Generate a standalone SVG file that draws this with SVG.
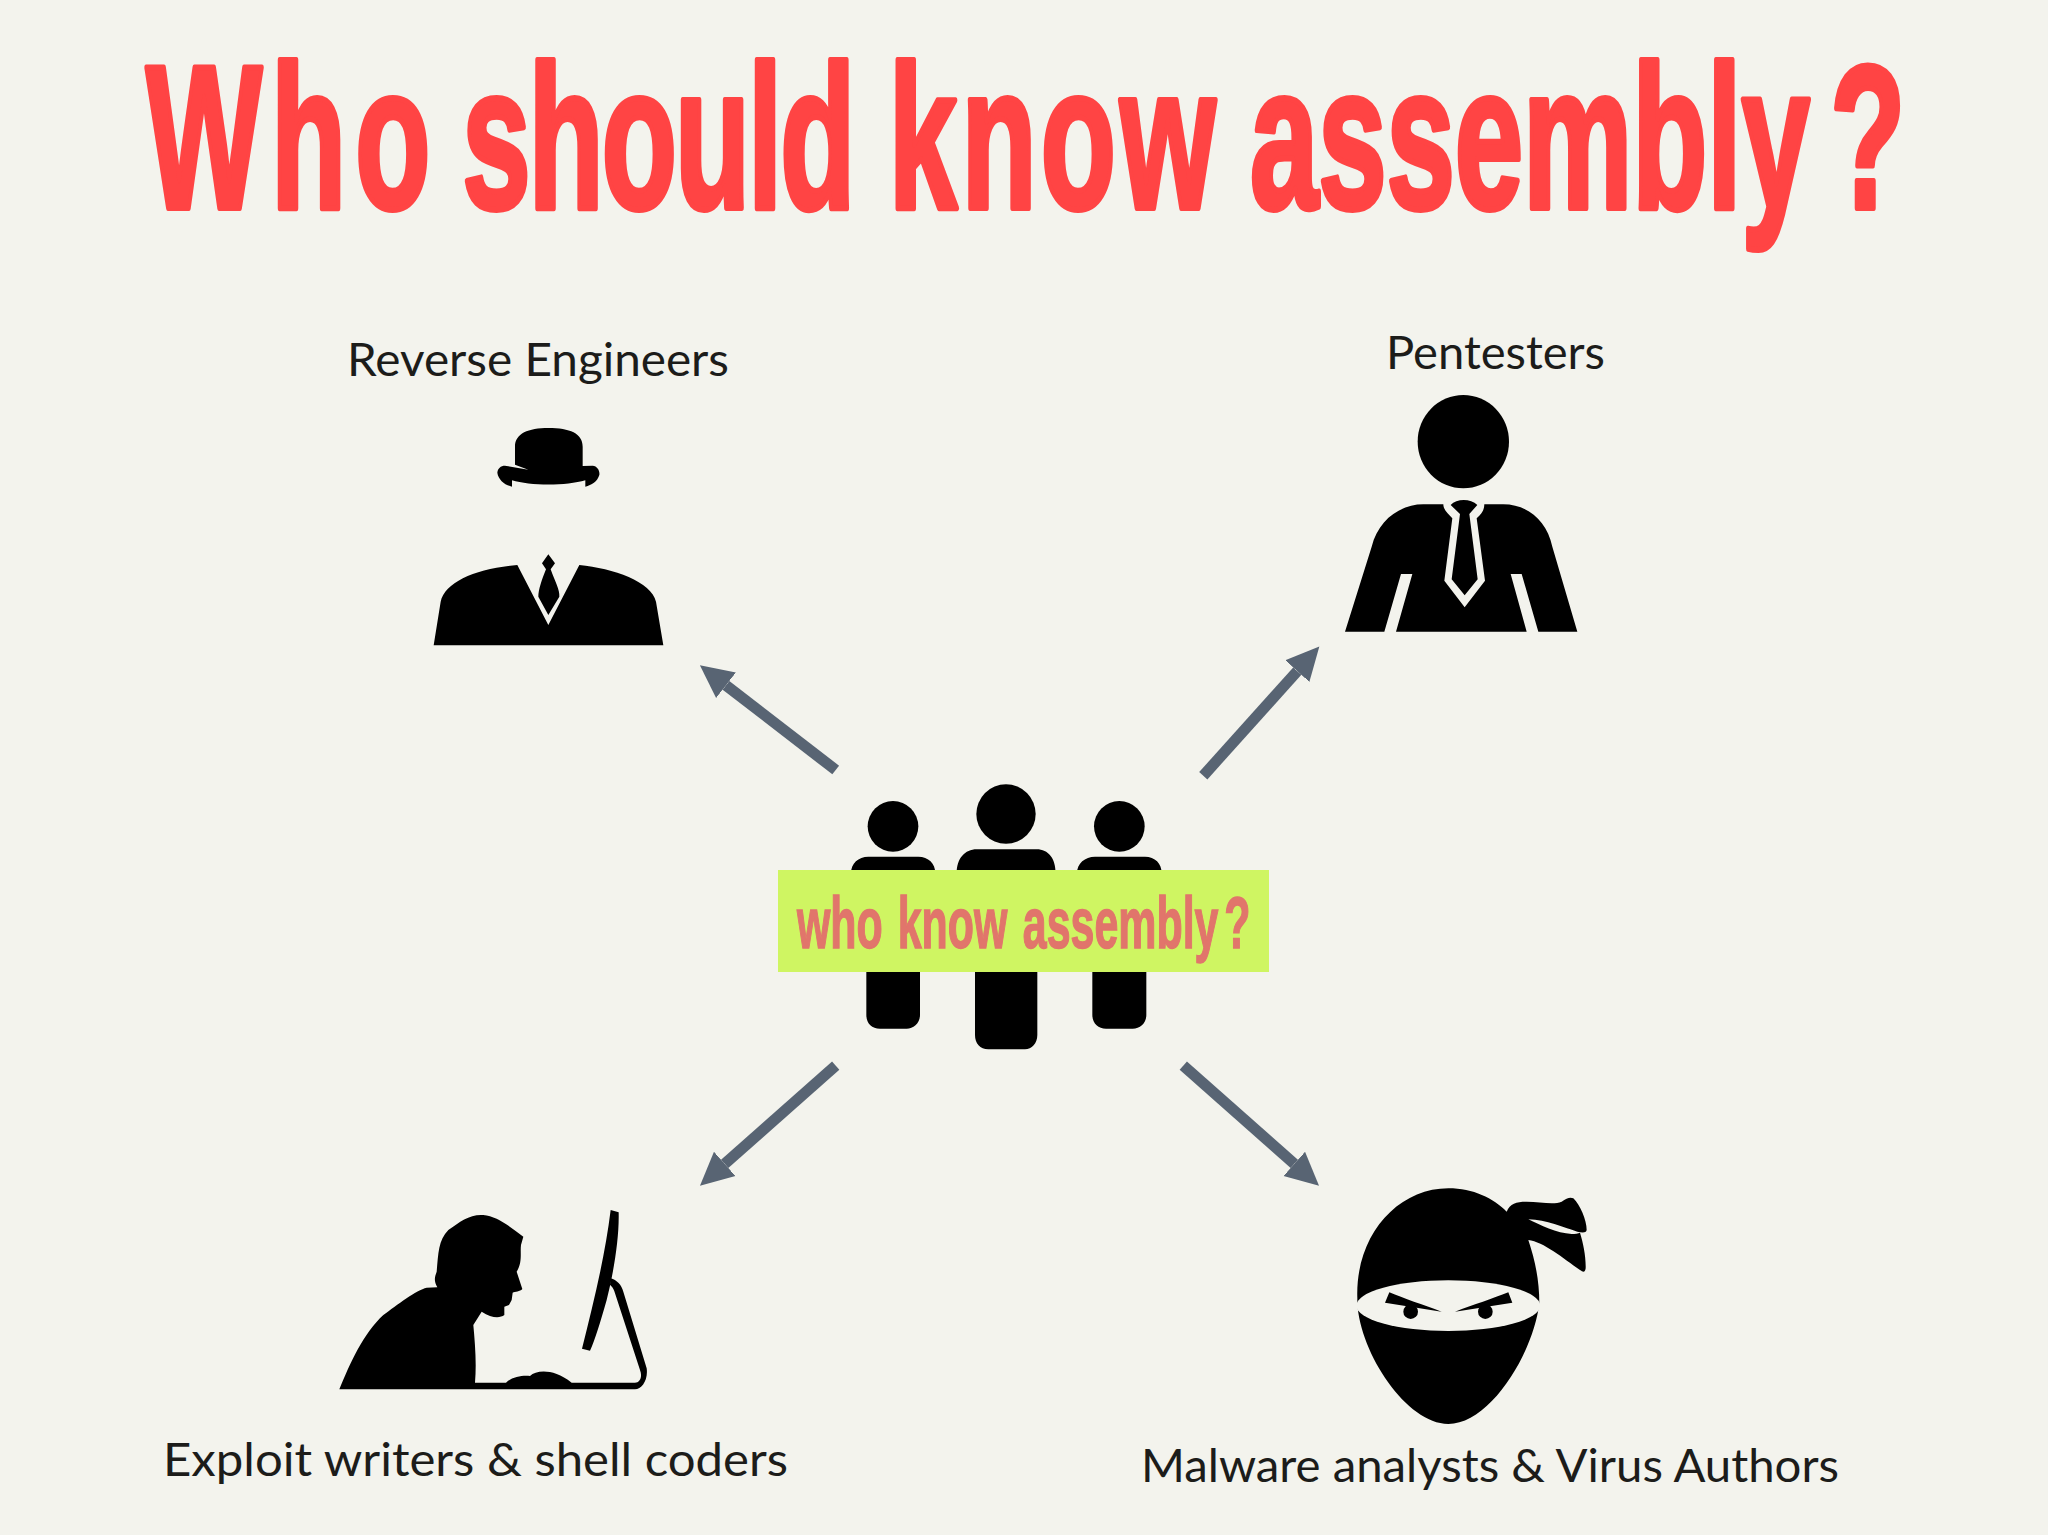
<svg xmlns="http://www.w3.org/2000/svg" width="2048" height="1535" viewBox="0 0 2048 1535">
<style>
.label{font-family:"Lato","Liberation Sans",sans-serif;font-size:46px;fill:#1c1c1a}
.title{font-family:"Liberation Sans",sans-serif;font-weight:700;font-size:205px;fill:#ff4444;stroke:#ff4444;stroke-width:6px;stroke-linejoin:round}
.banner{font-family:"Liberation Sans",sans-serif;font-weight:700;font-size:72px;fill:#e1756b;stroke:#e1756b;stroke-width:1.5px}
.ink{fill:#000}
.paper{fill:#f3f3ed}
.arrow{stroke:#586473;stroke-width:11;fill:none;marker-end:url(#head)}
</style>
<defs>
<marker id="head" markerUnits="userSpaceOnUse" markerWidth="36" markerHeight="36" refX="0" refY="18" orient="auto">
<path d="M0,1.8L33,18L0,34.2Z" fill="#586473"/>
</marker>
</defs>
<rect width="2048" height="1535" class="paper"/>
<text id="title" class="title" transform="translate(146 208) scale(.6 1)"><tspan x="0" letter-spacing="15">Who </tspan><tspan x="527" letter-spacing="-3.3">should </tspan><tspan x="1238" letter-spacing="7">know </tspan><tspan x="1840" letter-spacing="-.2" word-spacing="-57">assembly </tspan><tspan x="2807">?</tspan></text>
<g id="connectors">
<path class="arrow" d="M835.7,770L726,685.3"/>
<path class="arrow" d="M1203.3,775.7L1297.3,671.1"/>
<path class="arrow" d="M835.7,1065.7L724.7,1163.8"/>
<path class="arrow" d="M1183.3,1065.7L1294.3,1163.8"/>
</g>
<g id="reverse-engineers">
<text class="label" x="347" y="376" textLength="382" lengthAdjust="spacingAndGlyphs">Reverse Engineers</text>
<g transform="translate(400 400) scale(.33333)" class="ink">
<path d="M345,192V140C345,100 385,84 445,84C510,84 548,100 548,140V198L578,197C592,198 600,212 598,225C592,245 575,255 556,260V241C500,258 390,258 336,241V260C315,255 295,240 292,218C293,205 302,197 315,197L385,209L345,194Z"/>
<path d="M101,736L122,605C135,545 230,505 352,495L445,675L538,495C640,505 755,545 768,605L790,736Z"/>
<path d="M445,463L465,490L452,508C465,545 480,570 478,590L445,645L415,590C415,570 425,540 438,508L426,490Z"/>
</g>
</g>
<g id="pentesters">
<text class="label" x="1386" y="369" textLength="219" lengthAdjust="spacingAndGlyphs">Pentesters</text>
<g transform="translate(1320 370) scale(.33333)" class="ink">
<ellipse cx="430" cy="215" rx="137" ry="140"/>
<path d="M75,785L155,530C175,450 240,403 310,403H370C370,420 385,432 397,445L373,632L434,712L495,632L470,445C485,432 493,420 493,403H550C620,403 680,450 697,530L772,785H655L605,612H572L620,785H228L277,612H243L193,785Z"/>
<path d="M392,405C410,385 452,385 472,405L448,432L473,628L434,676L395,628L420,432Z"/>
</g>
</g>
<g id="crowd">
<g transform="translate(760 760) scale(.33333)" class="ink">
<circle cx="399" cy="199" r="76"/>
<circle cx="738" cy="162" r="89"/>
<circle cx="1078" cy="199" r="76"/>
<path d="M273,340C273,310 295,290 325,290H475C505,290 526,310 526,340ZM319,630H480V765C480,790 460,806 440,806H360C335,806 319,790 319,765Z"/>
<path d="M590,340C590,295 615,268 650,268H830C865,268 887,295 887,340ZM645,630H832V825C832,850 815,868 795,868H685C660,868 645,850 645,825Z"/>
<path d="M951,340C951,310 975,290 1005,290H1155C1185,290 1205,310 1205,340ZM997,630H1159V765C1159,790 1140,806 1118,806H1038C1015,806 997,790 997,765Z"/>
</g>
<rect x="778" y="870" width="491" height="102" fill="#cff562"/>
<text class="banner" transform="translate(797 948) scale(.596 1)"><tspan x="0">who </tspan><tspan x="169">know </tspan><tspan x="379" word-spacing="-20">assembly </tspan><tspan x="717">?</tspan></text>
</g>
<g id="exploit-writers">
<g transform="translate(320 1190) scale(.33333)" class="ink">
<path d="M58,598C90,520 130,430 190,375C230,345 290,300 320,293L352,292C340,270 345,260 350,245C355,190 355,150 385,120C420,95 450,72 490,75C530,78 570,110 610,140L603,165C600,190 608,215 590,245L607,297C600,305 585,305 578,308L575,330L567,345L553,350L553,375C540,385 515,385 485,365L460,405C465,460 470,520 465,578H558C575,560 610,555 630,558C650,540 700,535 755,578H945C960,578 968,560 960,540L885,310C880,290 870,285 870,285L872,265C890,270 905,285 910,305L980,535C985,570 965,598 945,598Z"/>
<path d="M872,60L896,67C898,150 880,250 860,330C840,400 825,450 810,482L786,476C820,340 855,200 872,60Z"/>
</g>
<text class="label" x="163" y="1476" textLength="625" lengthAdjust="spacingAndGlyphs">Exploit writers &amp; shell coders</text>
</g>
<g id="malware-analysts">
<g transform="translate(1340 1170) scale(.33333)">
<path class="ink" d="M52,385C45,200 170,55 325,55C400,55 460,85 500,125C510,100 530,95 560,95C600,95 640,105 665,95C680,85 690,80 700,85C720,105 740,150 740,180C738,190 725,188 712,185C670,172 620,150 565,148C600,165 650,190 695,192C705,192 715,190 720,188C730,220 738,260 737,295C735,310 728,305 720,300C670,265 610,215 565,210C585,270 598,330 598,400C580,550 450,762 325,762C200,762 60,550 52,400Z"/>
<ellipse class="paper" cx="325" cy="407" rx="276" ry="76"/>
<g class="ink">
<path d="M148,367L135,398L305,425C250,405 190,385 148,367Z"/>
<path d="M505,367L517,398L345,425C400,405 460,385 505,367Z"/>
<circle cx="212" cy="425" r="22"/>
<circle cx="436" cy="425" r="22"/>
</g>
</g>
<text class="label" x="1141" y="1482" textLength="698" lengthAdjust="spacingAndGlyphs">Malware analysts &amp; Virus Authors</text>
</g>
</svg>
